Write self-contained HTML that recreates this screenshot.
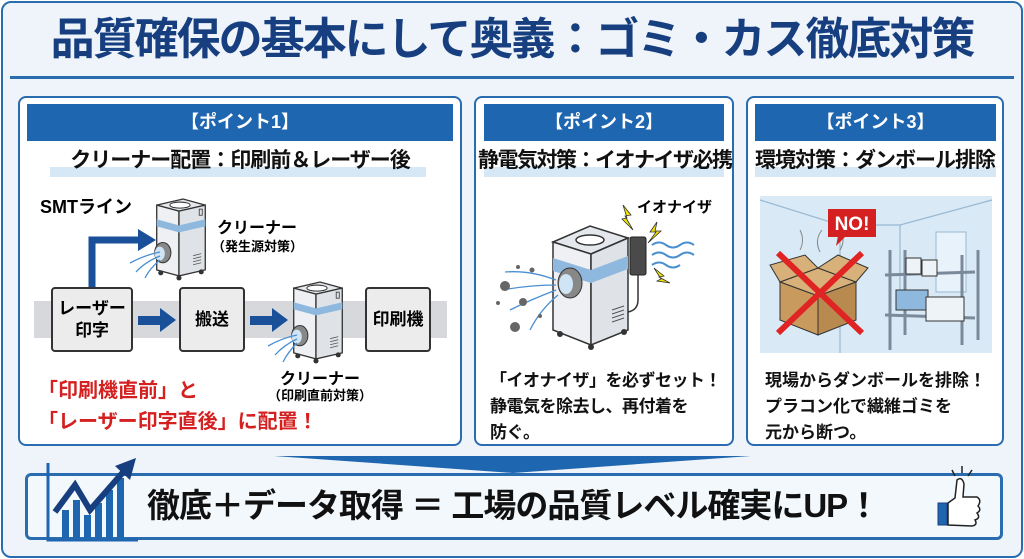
<!DOCTYPE html>
<html><head><meta charset="utf-8">
<style>
*{margin:0;padding:0;box-sizing:border-box}
body{width:1024px;height:559px;overflow:hidden;background:#fff;font-family:"Liberation Sans","Noto Sans CJK JP",sans-serif;position:relative}
.abs{position:absolute}
.frame{left:1px;top:1px;width:1022px;height:557px;border:2px solid #2a6cb0;border-radius:10px;background:#eef4fa}
.title{left:0;width:1024px;top:12px;text-align:center;font-size:44px;font-weight:bold;color:#173f80;letter-spacing:-2px;line-height:56px;white-space:nowrap}
.rule{left:10px;top:76px;width:1004px;height:3px;background:#2a6cb0}
.panel{border:2px solid #2a6cb0;border-radius:8px;background:#fff}
.hdr{background:#1f66b0;color:#fff;font-size:18px;font-weight:bold;text-align:center;line-height:37px}
.sub{text-align:center;font-size:21px;font-weight:bold;color:#111;line-height:26px;white-space:nowrap;letter-spacing:-1px}
.hl{background:#d6e7f5}
.body{font-size:17px;font-weight:bold;color:#111;line-height:26px;white-space:nowrap}
.red{color:#d42020;font-size:20px;font-weight:bold;line-height:31px}
.box{border:2px solid #333;border-radius:4px;background:#ececec;font-size:17px;font-weight:bold;text-align:center;display:flex;align-items:center;justify-content:center;line-height:22px}
svg.top{z-index:2}
</style></head><body>
<div class="abs frame"></div>
<div class="abs title">品質確保の基本にして奥義：ゴミ・カス徹底対策</div>
<div class="abs rule"></div>

<div class="abs panel" style="left:18px;top:96px;width:444px;height:350px"></div>
<div class="abs hdr" style="left:27px;top:104px;width:426px;height:37px">【ポイント1】</div>
<div class="abs hl" style="left:50px;top:167px;width:376px;height:10px"></div>
<div class="abs sub" style="left:27px;top:148px;width:426px">クリーナー配置：印刷前＆レーザー後</div>
<div class="abs" style="left:40px;top:193px;font-size:18px;font-weight:bold">SMTライン</div>
<div class="abs" style="left:34px;top:301px;width:413px;height:37px;background:#d6d8db"></div>
<div class="abs box" style="left:51px;top:287px;width:82px;height:65px">レーザー<br>印字</div>
<div class="abs box" style="left:179px;top:287px;width:66px;height:65px">搬送</div>
<div class="abs box" style="left:365px;top:287px;width:66px;height:65px">印刷機</div>
<div class="abs" style="left:217px;top:214px;font-size:16px;font-weight:bold">クリーナー</div>
<div class="abs" style="left:212px;top:236px;font-size:13px;font-weight:bold">（発生源対策）</div>
<div class="abs" style="left:270px;top:365px;width:100px;text-align:center;font-size:16px;font-weight:bold">クリーナー</div>
<div class="abs" style="left:262px;top:385px;width:116px;text-align:center;font-size:13px;font-weight:bold">（印刷直前対策）</div>
<div class="abs red" style="left:38px;top:376px">「印刷機直前」と<br>「レーザー印字直後」に配置！</div>

<div class="abs panel" style="left:474px;top:96px;width:260px;height:350px"></div>
<div class="abs hdr" style="left:484px;top:104px;width:240px;height:37px">【ポイント2】</div>
<div class="abs hl" style="left:484px;top:167px;width:240px;height:10px"></div>
<div class="abs sub" style="left:478px;top:148px;width:252px;letter-spacing:-1.5px">静電気対策：イオナイザ必携</div>
<div class="abs" style="left:637px;top:196px;font-size:15px;font-weight:bold">イオナイザ</div>
<div class="abs body" style="left:490px;top:368px;letter-spacing:-0.5px">「イオナイザ」を必ずセット！<br>静電気を除去し、再付着を<br>防ぐ。</div>

<div class="abs panel" style="left:746px;top:96px;width:258px;height:350px"></div>
<div class="abs hdr" style="left:755px;top:104px;width:241px;height:37px">【ポイント3】</div>
<div class="abs hl" style="left:755px;top:167px;width:241px;height:10px"></div>
<div class="abs sub" style="left:750px;top:148px;width:250px">環境対策：ダンボール排除</div>
<div class="abs body" style="left:765px;top:368px">現場からダンボールを排除！<br>プラコン化で繊維ゴミを<br>元から断つ。</div>

<div class="abs" style="left:25px;top:473px;width:978px;height:67px;border:3px solid #2a6cb0;border-radius:6px;background:#f3f8fc"></div>
<div class="abs" style="left:147px;top:484px;width:790px;font-size:33px;font-weight:bold;color:#111;line-height:44px;white-space:nowrap;letter-spacing:-1px">徹底＋データ取得 ＝ 工場の品質レベル確実にUP！</div>

<svg class="abs top" style="left:0;top:0" width="1024" height="559">
<defs>
<symbol id="cl" viewBox="0 0 60 85">
<polygon points="6,8 32,2 54,8 28,14" fill="#e4e8ec" stroke="#333" stroke-width="1.3"/>
<ellipse cx="29" cy="8" rx="10" ry="3" fill="#fff" stroke="#333"/>
<polygon points="6,8 28,14 28,78 6,72" fill="#eef0f3" stroke="#333" stroke-width="1.3"/>
<polygon points="28,14 54,8 54,72 28,78" fill="#dfe3e8" stroke="#333" stroke-width="1.3"/>
<polygon points="6,22 28,28 28,35 6,29" fill="#8fb8de"/>
<polygon points="28,28 54,22 54,29 28,35" fill="#8fb8de"/>
<g stroke="#555" stroke-width=".8"><line x1="42" y1="58" x2="50" y2="56"/><line x1="42" y1="61" x2="50" y2="59"/><line x1="42" y1="64" x2="50" y2="62"/><line x1="42" y1="67" x2="50" y2="65"/></g>
<rect x="48" y="12" width="3" height="6" fill="none" stroke="#333" stroke-width=".8"/>
<ellipse cx="12" cy="55" rx="8" ry="10" fill="#888" stroke="#333"/>
<ellipse cx="9" cy="56" rx="5" ry="7" fill="#cfe4f5"/>
<circle cx="10" cy="75" r="2.5" fill="#333"/><circle cx="28" cy="80" r="2.5" fill="#333"/><circle cx="50" cy="74" r="2.5" fill="#333"/>
</symbol>
</defs>
<path d="M92,287 V240 H140" fill="none" stroke="#1a4f9a" stroke-width="7"/>
<polygon points="138,229 156,240 138,251" fill="#1a4f9a"/>
<rect x="138" y="316" width="24" height="9" fill="#1a4f9a"/><polygon points="160,308 176,320 160,332" fill="#1a4f9a"/>
<rect x="250" y="316" width="24" height="9" fill="#1a4f9a"/><polygon points="272,308 288,320 272,332" fill="#1a4f9a"/>
<use href="#cl" x="150" y="197" width="62" height="86"/>
<use href="#cl" x="287" y="280" width="62" height="86"/>
<g stroke="#4a8fd0" stroke-width="1.3" fill="none">
<path d="M160,252 Q145,255 130,263"/><path d="M160,256 Q145,262 136,272"/><path d="M160,260 Q150,268 145,278"/>
<path d="M297,335 Q282,338 268,346"/><path d="M297,339 Q284,345 275,355"/><path d="M297,343 Q288,352 283,362"/>
</g>
<g stroke="#333" stroke-width="1.5">
<polygon points="553,242 590,226 628,238 591,254" fill="#e4e8ec"/>
<ellipse cx="590" cy="240" rx="14" ry="5" fill="#fff"/>
<polygon points="553,242 591,254 591,345 553,330" fill="#eef0f3"/>
<polygon points="591,254 628,238 628,330 591,345" fill="#dfe3e8"/>
</g>
<polygon points="553,258 591,270 591,283 553,271" fill="#8fb8de"/>
<polygon points="591,270 628,256 628,269 591,283" fill="#8fb8de"/>
<ellipse cx="570" cy="283" rx="12" ry="15" fill="#888" stroke="#333"/>
<ellipse cx="566" cy="284" rx="7" ry="10" fill="#cfe4f5"/>
<circle cx="560" cy="334" r="3" fill="#333"/><circle cx="591" cy="347" r="3" fill="#333"/><circle cx="624" cy="332" r="3" fill="#333"/>
<g stroke="#555" stroke-width="1"><line x1="612" y1="310" x2="624" y2="306"/><line x1="612" y1="314" x2="624" y2="310"/><line x1="612" y1="318" x2="624" y2="314"/><line x1="612" y1="322" x2="624" y2="318"/></g>
<rect x="630" y="237" width="16" height="38" rx="2" fill="#4a4a4a" stroke="#222"/>
<path d="M638,275 V300 Q638,310 628,312" fill="none" stroke="#333" stroke-width="1.5"/>
<g fill="#f2e200" stroke="#333" stroke-width=".8">
<polygon points="623,205 631,215 625,216 633,230 622,219 627,218"/>
<polygon points="657,222 650,232 656,232 648,243 661,231 655,231"/>
<polygon points="654,268 664,276 659,277 670,283 657,281 661,279"/>
</g>
<g stroke="#4a8fd0" stroke-width="2" fill="none">
<path d="M652,245 q7,-5 14,0 t14,0 t14,0"/><path d="M652,255 q7,-5 14,0 t14,0 t14,0"/><path d="M652,265 q7,-5 14,0 t14,0"/>
</g>
<g stroke="#4a8fd0" stroke-width="1.3" fill="none">
<path d="M556,280 Q530,270 505,272"/><path d="M556,285 Q530,285 502,290"/><path d="M556,290 Q530,300 510,310"/><path d="M558,295 Q540,310 530,330"/>
</g>
<g fill="#666"><circle cx="505" cy="286" r="5"/><circle cx="523" cy="302" r="4"/><circle cx="515" cy="327" r="5"/><circle cx="532" cy="270" r="2.5"/><circle cx="518" cy="267" r="2"/><circle cx="498" cy="303" r="2"/><circle cx="540" cy="316" r="2"/></g>
<rect x="760" y="196" width="232" height="157" fill="#d9eaf6"/>
<g stroke="#9ab8d2" stroke-width="1.2" fill="none">
<path d="M760,200 L840,225 L900,225 L992,200"/><path d="M840,225 V353"/><path d="M900,225 V290"/>
</g>
<rect x="936" y="232" width="30" height="60" fill="#e8f2fa" stroke="#9ab8d2"/>
<g stroke="#7a8a9a" stroke-width="3" fill="none">
<path d="M890,250 V350"/><path d="M905,250 V335"/><path d="M962,255 V345"/><path d="M978,250 V340"/>
<path d="M885,275 L975,272"/><path d="M885,315 L975,318"/>
</g>
<rect x="896" y="290" width="32" height="20" fill="#8fb8de" stroke="#333"/>
<rect x="926" y="297" width="38" height="24" fill="#eef3f8" stroke="#333"/>
<rect x="906" y="258" width="15" height="16" fill="#eef3f8" stroke="#333"/><rect x="922" y="260" width="15" height="16" fill="#eef3f8" stroke="#333"/>
<polygon points="780,282 818,268 856,282 818,296" fill="#d8b07a" stroke="#333"/>
<polygon points="780,282 818,296 818,335 780,320" fill="#c99a5e" stroke="#333"/>
<polygon points="818,296 856,282 856,320 818,335" fill="#b98a50" stroke="#333"/>
<polygon points="780,282 770,265 805,255 818,268" fill="#d8b07a" stroke="#333"/>
<polygon points="856,282 868,268 838,255 818,268" fill="#d8b07a" stroke="#333"/>
<g stroke="#888" stroke-width="1" fill="none"><path d="M800,250 q5,-10 0,-20"/><path d="M820,252 q-6,-12 2,-22"/><path d="M840,250 q6,-10 0,-18"/></g>
<g stroke="#e02424" stroke-width="6"><line x1="778" y1="253" x2="862" y2="333"/><line x1="862" y1="253" x2="778" y2="333"/></g>
<rect x="828" y="209" width="48" height="28" fill="#d42020"/><polygon points="838,236 846,236 836,246" fill="#d42020"/>
<text x="852" y="230" fill="#fff" font-size="19" font-weight="bold" text-anchor="middle" font-family="Liberation Sans, sans-serif">NO!</text>
<polygon points="274,456 751,456 513,473" fill="#1f66b0"/>
<g fill="#1f66b0">
<rect x="62" y="510" width="7" height="28"/><rect x="73" y="500" width="7" height="38"/><rect x="84" y="515" width="7" height="23"/><rect x="95" y="503" width="7" height="35"/><rect x="106" y="490" width="7" height="48"/><rect x="117" y="478" width="7" height="60"/>
</g>
<path d="M48,463 V540 H138" fill="none" stroke="#1f66b0" stroke-width="3"/>
<path d="M55,512 L75,485 L90,510 L125,470" fill="none" stroke="#173f80" stroke-width="6"/>
<polygon points="115,466 136,458 130,480" fill="#173f80"/>
<rect x="938" y="503" width="9" height="22" fill="#1f66b0" stroke="#173f80"/>
<path d="M948,503 L955,498 L957,480 Q962,476 964,484 L963,497 L977,497 Q982,500 978,506 Q982,510 977,513 Q981,518 975,520 Q978,525 972,526 L948,525 Z" fill="#fff" stroke="#222" stroke-width="1.5"/>
<g stroke="#222" stroke-width="1.5"><line x1="952" y1="470" x2="955" y2="476"/><line x1="962" y1="466" x2="962" y2="473"/><line x1="972" y1="470" x2="968" y2="476"/></g>
</svg>
</body></html>
